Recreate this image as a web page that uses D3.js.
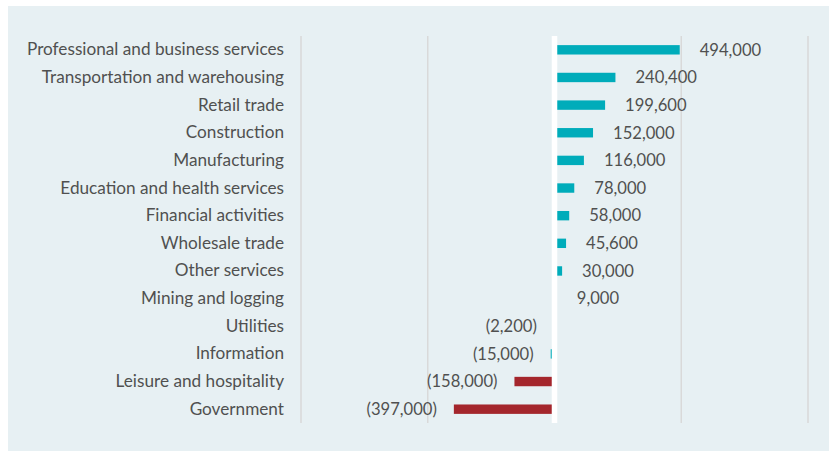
<!DOCTYPE html>
<html>
<head>
<meta charset="utf-8">
<script src="https://cdn.jsdelivr.net/npm/d3@7"></script>
<style>
  html, body { margin: 0; padding: 0; background: #ffffff; }
  svg { display: block; }
  text { font-family: Lato, "Open Sans", sans-serif; fill: #505050; }
</style>
</head>
<body>
<svg></svg>
<script>
// industries, top to bottom
let categories = [
    'Professional and business services',
    'Transportation and warehousing',
    'Retail trade',
    'Construction',
    'Manufacturing',
    'Education and health services',
    'Financial activities',
    'Wholesale trade',
    'Other services',
    'Mining and logging',
    'Utilities',
    'Information',
    'Leisure and hospitality',
    'Government'
];

let values = [494000, 240400, 199600, 152000, 116000, 78000, 58000, 45600, 30000, 9000, -2200, -15000, -158000, -397000];

// bar colour group per category ('up' = teal, 'down' = red)
let colorGroups = ['up', 'up', 'up', 'up', 'up', 'up', 'up', 'up', 'up', 'up', 'down', 'up', 'down', 'down'];

let gridTicks = [-1000000, -500000, 0, 500000, 1000000];

let width = 829;
let height = 451;

let plotLeft = 301;
let plotRight = 808;
let plotTop = 36;
let plotBottom = 423;

let colors = { up: '#00acba', down: '#a4262c' };

let svg = d3.select('svg')
    .attr('width', width)
    .attr('height', height);

let fmt = d3.format(',');
let labelText = (v) => v < 0 ? `(${fmt(-v)})` : fmt(v);

let xScale = d3.scaleLinear()
    .domain([-1000000, 1000000])
    .range([plotLeft, plotRight]);

let yScale = d3.scaleBand()
    .domain(categories)
    .range([plotTop, plotBottom])
    .paddingInner(0.66)
    .paddingOuter(0.33);

// background panel
svg.append('rect')
    .attr('x', 8)
    .attr('y', 6)
    .attr('width', width - 8)
    .attr('height', height - 6)
    .attr('fill', '#e7f0f3');

// vertical gridlines
svg.append('g')
    .selectAll('line')
    .data(gridTicks.filter(d => d !== 0))
    .enter()
    .append('line')
    .attr('x1', d => xScale(d))
    .attr('x2', d => xScale(d))
    .attr('y1', plotTop)
    .attr('y2', plotBottom)
    .attr('stroke', '#d9d9d9')
    .attr('stroke-width', 1.5);

// bars
svg.append('g')
    .selectAll('rect')
    .data(values)
    .enter()
    .append('rect')
    .attr('x', (d) => xScale(Math.min(0, d)))
    .attr('y', (d, i) => yScale(categories[i]))
    .attr('width', (d) => Math.abs(xScale(d) - xScale(0)))
    .attr('height', yScale.bandwidth())
    .attr('fill', (d, i) => colors[colorGroups[i]]);

// zero line in white, drawn over the bar ends
svg.append('line')
    .attr('x1', xScale(0))
    .attr('x2', xScale(0))
    .attr('y1', plotTop)
    .attr('y2', plotBottom)
    .attr('stroke', '#ffffff')
    .attr('stroke-width', 5.5);

// category labels
let yAxis = d3.axisLeft(yScale).tickSize(0).tickPadding(0);
let axisG = svg.append('g')
    .attr('transform', 'translate(284, 0)')
    .call(yAxis);
axisG.select('.domain').remove();
axisG.selectAll('text')
    .attr('font-family', null)
    .attr('font-size', null)
    .style('font-size', '17.2px')
    .style('fill', '#505050');

// value labels
svg.append('g')
    .selectAll('text')
    .data(values)
    .enter()
    .append('text')
    .attr('x', (d) => d < 0 ? xScale(d) - 17 : xScale(d) + 20)
    .attr('y', (d, i) => yScale(categories[i]) + yScale.bandwidth() / 2)
    .attr('dy', '0.35em')
    .attr('text-anchor', (d) => d < 0 ? 'end' : 'start')
    .style('font-size', '16.6px')
    .text(labelText);
</script>
</body>
</html>
